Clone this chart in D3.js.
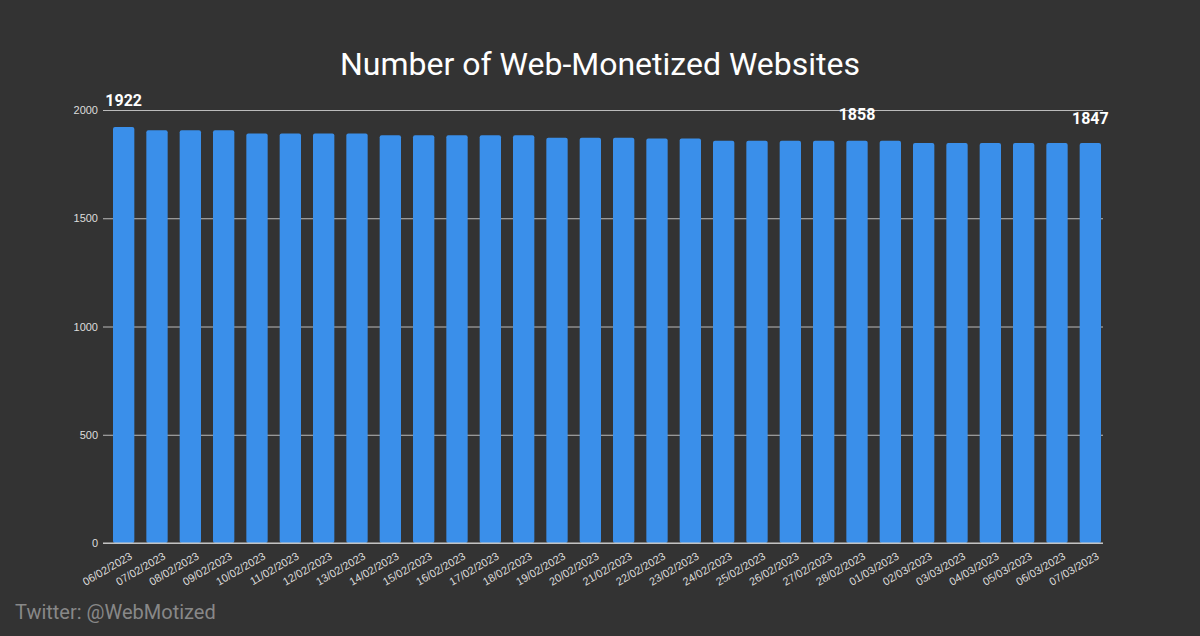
<!DOCTYPE html>
<html><head><meta charset="utf-8">
<script src="https://cdn.jsdelivr.net/npm/d3@7"></script>
<style>body{margin:0;background:#333333;}svg{display:block;font-family:Roboto,sans-serif;}</style>
</head><body><svg id="c" width="1200" height="636"></svg>
<script>
const dates = ["06/02/2023","07/02/2023","08/02/2023","09/02/2023","10/02/2023","11/02/2023","12/02/2023","13/02/2023","14/02/2023","15/02/2023","16/02/2023","17/02/2023","18/02/2023","19/02/2023","20/02/2023","21/02/2023","22/02/2023","23/02/2023","24/02/2023","25/02/2023","26/02/2023","27/02/2023","28/02/2023","01/03/2023","02/03/2023","03/03/2023","04/03/2023","05/03/2023","06/03/2023","07/03/2023"];
const websites = [1922,1906,1906,1906,1891,1891,1891,1891,1883,1883,1883,1883,1883,1872,1872,1872,1868,1868,1858,1858,1858,1858,1858,1858,1847,1847,1847,1847,1847,1847];
const yTicks = [0,500,1000,1500,2000];
const labelled = [0,22,29];

const svg = d3.select("#c");
const x = d3.scaleBand().domain(dates).range([107,1107]).paddingInner(0.36).paddingOuter(0.18);
const y = d3.scaleLinear().domain([0,2000]).range([543,110]);

svg.append("text").attr("x",600).attr("y",75).attr("text-anchor","middle").attr("fill","#fff").attr("font-size",32).text("Number of Web-Monetized Websites");

const ya = svg.append("g").attr("transform","translate(103,0)")
  .call(d3.axisLeft(y).tickValues(yTicks).tickSize(-1000).tickFormat(d3.format("d")));
ya.select(".domain").remove();
ya.selectAll("line").attr("stroke","#bbbbbb");
ya.selectAll("text").attr("fill","#ddd").attr("font-size",11).attr("x",-5);

svg.selectAll("rect.bar").data(websites).join("rect").attr("class","bar")
  .attr("x",(d,i)=>x(dates[i])).attr("width",x.bandwidth())
  .attr("y",d=>y(d)).attr("height",d=>y(0)-y(d)).attr("rx",2).attr("fill","#3a8fea");

svg.append("line").attr("x1",103).attr("x2",1103).attr("y1",y(0)).attr("y2",y(0)).attr("stroke","#cccccc");

const xa = svg.append("g").attr("transform",`translate(0,${y(0)})`).call(d3.axisBottom(x).tickSize(0));
xa.select(".domain").remove();
xa.selectAll("text").attr("fill","#ddd").attr("font-size",11)
  .attr("text-anchor","end").attr("transform","translate(4,6) rotate(-30)");

svg.selectAll("text.lbl").data(labelled).join("text").attr("class","lbl")
  .attr("x",i=>x(dates[i])+x.bandwidth()/2).attr("y",i=> i===0?106:i===22?120:124)
  .attr("text-anchor","middle").attr("fill","#fff").attr("font-weight","bold").attr("font-size",16)
  .text(i=>websites[i]);

svg.append("text").attr("x",15).attr("y",619).attr("fill","#888").attr("font-size",20).text("Twitter: @WebMotized");
</script></body></html>
